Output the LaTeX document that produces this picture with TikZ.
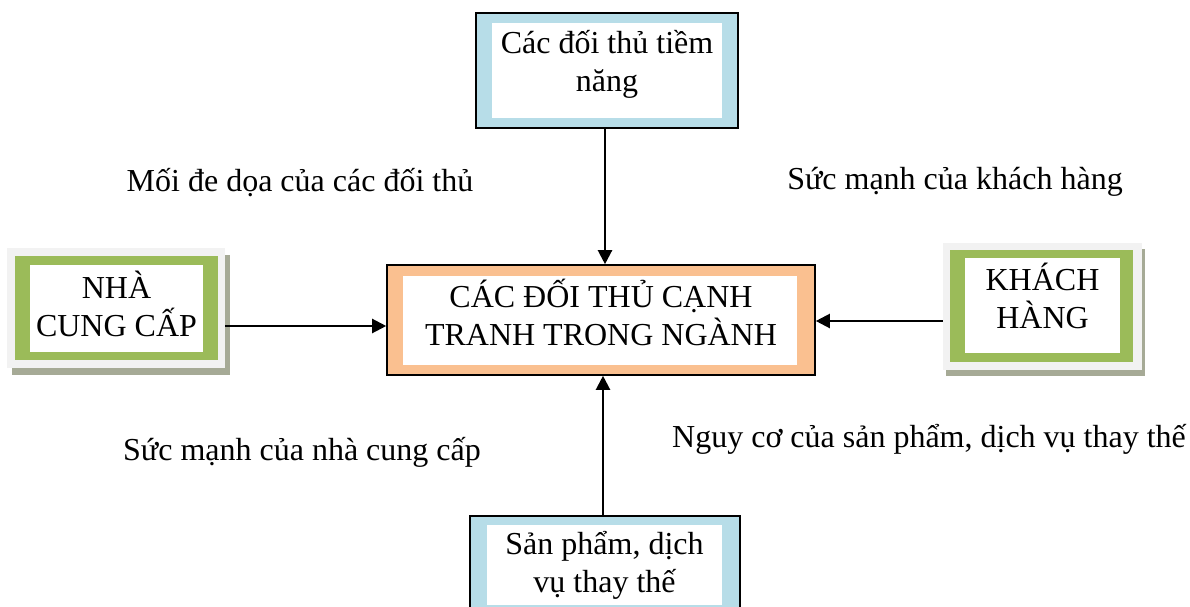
\documentclass[tikz,border=0pt]{standalone}
\usepackage{fontspec}
\setmainfont{Liberation Serif}
\usetikzlibrary{arrows.meta}
\definecolor{bandblue}{HTML}{B7DDE8}
\definecolor{bandorange}{HTML}{FAC090}
\definecolor{bandgreen}{HTML}{9BBB59}
\definecolor{framegrey}{HTML}{F2F2F2}
\definecolor{shadowgrey}{HTML}{A6AA96}
\begin{document}
\begin{tikzpicture}[x=1pt,y=-1pt,
  every node/.style={font=\fontsize{32}{38}\selectfont, inner sep=0pt, align=center},
  whitebox/.style={fill=white, draw=none},
  arr/.style={line width=2.2pt, -{Triangle[length=14pt,width=14pt]}},
  lbl/.style={anchor=base}
]
\useasboundingbox (0,0) rectangle (1190,607);

% potential entrants (top)
\node[fill=bandblue, draw=black, line width=1.6pt, minimum width=262pt, minimum height=115pt] (top) at (607,70.5) {};
\node[whitebox, minimum width=230pt, minimum height=95pt] (topin) at (607,70.5) {};
\node (toptext) at (607,64) {Các đối thủ tiềm\\năng};

% industry rivals (centre)
\node[fill=bandorange, draw=black, line width=1.6pt, minimum width=428pt, minimum height=110pt] (center) at (601,320) {};
\node[whitebox, minimum width=394pt, minimum height=89pt] (centerin) at (600,320.5) {};
\node (centertext) at (601,312) {CÁC ĐỐI THỦ CẠNH\\TRANH TRONG NGÀNH};

% suppliers (left)
\fill[shadowgrey] (12,255) rectangle (230,375);
\node[fill=framegrey, minimum width=218pt, minimum height=120pt] (lft) at (116,308) {};
\node[fill=bandgreen, minimum width=203pt, minimum height=104pt] (lftband) at (116.5,308) {};
\node[whitebox, minimum width=173pt, minimum height=87pt] (lftin) at (116.5,308.5) {};
\node (lfttext) at (116.5,304) {NHÀ\\CUNG CẤP};

% buyers (right)
\fill[shadowgrey] (946,249) rectangle (1145,376);
\node[fill=framegrey, minimum width=199pt, minimum height=127pt] (rgt) at (1042.5,306.5) {};
\node[fill=bandgreen, minimum width=183pt, minimum height=112pt] (rgtband) at (1041.5,306) {};
\node[whitebox, minimum width=155pt, minimum height=95pt] (rgtin) at (1042.5,305.5) {};
\node (rgttext) at (1042.5,296) {KHÁCH\\HÀNG};

% substitutes (bottom, running off the page)
\node[fill=bandblue, draw=black, line width=1.6pt, minimum width=270pt, minimum height=110pt, anchor=north] (bottom) at (605,515) {};
\node[whitebox, minimum width=235pt, minimum height=80pt, anchor=north] (bottomin) at (604.5,525) {};
\node (bottomtext) at (604.5,565) {Sản phẩm, dịch\\vụ thay thế};

% forces
\coordinate (tcol) at (605,0);
\coordinate (bcol) at (603,0);
\coordinate (lrow) at (0,326);
\coordinate (rrow) at (0,321);
\draw[arr] (top.south -| tcol) -- (center.north -| tcol);
\draw[arr] (bottom.north -| bcol) -- (center.south -| bcol);
\draw[arr] (lrow -| lft.east) -- (lrow -| center.west);
\draw[arr] (rrow -| rgt.west) -- (rrow -| center.east);

% force labels
\node[lbl] (threat) at (300,191) {Mối đe dọa của các đối thủ};
\node[lbl] (buyerpower) at (955,189) {Sức mạnh của khách hàng};
\node[lbl] (supplierpower) at (302,460) {Sức mạnh của nhà cung cấp};
\node[lbl, anchor=base west] (substthreat) at (672,447) {Nguy cơ của sản phẩm, dịch vụ thay thế};
\end{tikzpicture}
\end{document}
